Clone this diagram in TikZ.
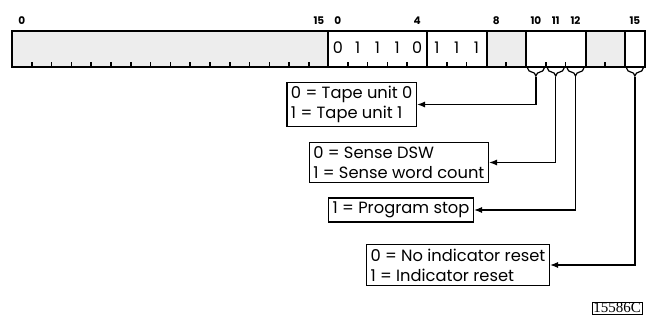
\documentclass[tikz,border=0pt]{standalone}
\usepackage{fontspec}
\setmainfont{Poppins}
\newfontfamily\serialfont{Liberation Serif}
\usetikzlibrary{positioning, arrows.meta, calc, decorations.pathreplacing}

\begin{document}
\begin{tikzpicture}[x=1pt, y=-1pt, >={Latex[length=8pt, width=6pt]},
    field/.style={draw, line width=1.3pt},
    shaded/.style={field, fill=black!7},
    legend/.style={draw, line width=1.2pt, align=left, anchor=east,
        inner sep=4pt, font=\fontsize{16.3}{20}\selectfont},
    bitno/.style={font=\fontsize{10.5}{10.5}\selectfont\bfseries},
    digit/.style={font=\fontsize{16}{16}\selectfont},
    bracket/.style={decorate, decoration={brace, amplitude=8pt}, line width=1.2pt}]
    \useasboundingbox (0,0) rectangle (648,323);
    % bit width; first word starts at x=12, second at x=328
    \def\bw{19.8}
    % Fields of the two words
    \draw[shaded] (12,31) rectangle (328,67);
    \draw[field] (328,31) rectangle (427,67);
    \draw[field] (427,31) rectangle (487,67);
    \draw[shaded] (487,31) rectangle (526,67);
    \draw[field] (526,31) rectangle (586,67);
    \draw[shaded] (586,31) rectangle (625,67);
    \draw[field] (625,31) rectangle (645,67);
    % Ticks at bit boundaries
    \foreach \i in {1,...,15}
        \draw[line width=1.6pt] ({12+\i*\bw},67) -- ++(0,-5);
    \foreach \i in {1,2,3,4,6,7,9,11,12,14}
        \draw[line width=1.6pt] ({328+\i*\bw},67) -- ++(0,-5);
    % Bit numbers
    \node[bitno] (n0) at ({12+0.5*\bw},21) {0};
    \node[bitno] (n15) at ({12+15.5*\bw},21) {15};
    \foreach \b in {0,4,8,10,11,12,15}
        \node[bitno] (m\b) at ({328+(\b+0.5)*\bw},21) {\b};
    % Op code bits
    \foreach \b/\v in {0/0,1/1,2/1,3/1,4/0,5/1,6/1,7/1}
        \node[digit] (d\b) at ({328+(\b+0.5)*\bw},48) {\v};
    % Brackets under the modifier bits
    \foreach \b in {10,11,12,15} {
        \draw[bracket] ({328+(\b+1)*\bw-1.5},68) -- ({328+\b*\bw+1.5},68);
        \coordinate (t\b) at ({328+(\b+0.5)*\bw},77);
    }
    % Meaning of each bit
    \node[legend] (tape) at (417,104.5) {0 = Tape unit 0\\1 = Tape unit 1};
    \node[legend] (sense) at (489,162.5) {0 = Sense DSW\\1 = Sense word count};
    \node[legend] (stop) at (474,210) {1 = Program stop};
    \node[legend] (reset) at (550,265) {0 = No indicator reset\\1 = Indicator reset};
    \draw[->, line width=1.2pt] (t10) |- (tape.east);
    \draw[->, line width=1.2pt] (t11) |- (sense.east);
    \draw[->, line width=1.2pt] (t12) |- (stop.east);
    \draw[->, line width=1.2pt] (t15) |- (reset.east);
    \node[draw, inner sep=1pt, font=\serialfont\fontsize{15}{15}\selectfont] (fig) at (617,308) {15586C};
\end{tikzpicture}
\end{document}
